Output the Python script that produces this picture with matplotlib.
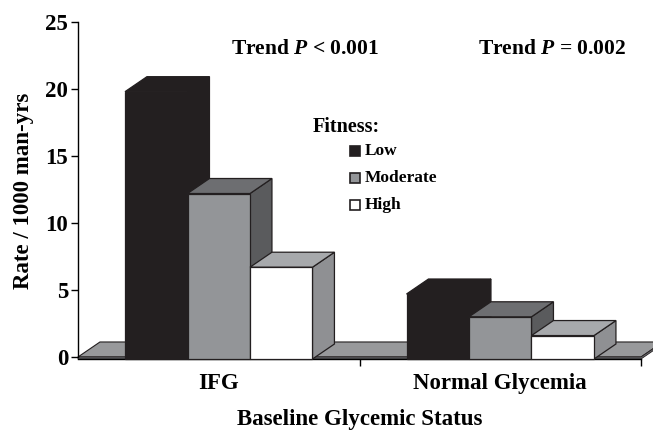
import numpy as np
import matplotlib.pyplot as plt
from matplotlib.patches import Polygon

# incidence rate per 1000 man-years by baseline status and fitness level
groups = ["IFG", "Normal Glycemia"]
fitness = ["Low", "Moderate", "High"]
rates = {
    "Low": [19.8, 4.7],
    "Moderate": [12.2, 3.0],
    "High": [6.7, 1.6],
}
trend_text = ["Trend $\\mathbfit{P}$ < 0.001", "Trend $\\mathbfit{P}$ = 0.002"]

# face colours: front, top, side
faces = {
    "Low": ("#231f20", "#231f20", "#231f20"),
    "Moderate": ("#939598", "#6d6e71", "#5a5b5d"),
    "High": ("#ffffff", "#a7a9ac", "#8f9093"),
}
edge = "#231f20"

plt.rcParams['font.family'] = ['Liberation Serif', 'DejaVu Serif']
plt.rcParams['font.weight'] = 'bold'
plt.rcParams['mathtext.fontset'] = 'custom'
plt.rcParams['mathtext.bfit'] = 'Liberation Serif:bold:italic'
plt.rcParams['mathtext.it'] = 'Liberation Serif:bold:italic'

W, H = 653, 432
fig = plt.figure(figsize=(W / 100, H / 100), dpi=100)
ax = fig.add_axes([78 / W, 73 / H, 563 / W, 337 / H])

base = -0.15          # floor thickness
dx, dy = 0.078, 1.12  # depth offset of the 3d look
w = 0.222             # bar width

ax.set_xlim(0, 2)
ax.set_ylim(base, 25)

# floor
floor = Polygon([(0, 0), (2, 0), (2 + dx, dy), (dx, dy)], closed=True,
                facecolor="#98999b", edgecolor=edge, lw=0.8, clip_on=False, zorder=1)
ax.add_patch(floor)
ax.add_patch(Polygon([(0, base), (2, base), (2 + dx, dy + base), (2 + dx, dy), (2, 0), (0, 0)],
                     closed=True, facecolor="#6d6e71", edgecolor=edge, lw=0.6,
                     clip_on=False, zorder=1))

z = 2
for g in range(len(groups)):
    for i, f in enumerate(fitness):
        x0 = g + 0.5 - 1.5 * w + i * w
        x1 = x0 + w
        h = rates[f][g]
        front, top, side = faces[f]
        side_poly = [(x1, base), (x1 + dx, base + dy), (x1 + dx, h + dy), (x1, h)]
        top_poly = [(x0, h), (x0 + dx, h + dy), (x1 + dx, h + dy), (x1, h)]
        front_poly = [(x0, base), (x1, base), (x1, h), (x0, h)]
        for pts, col in ((side_poly, side), (top_poly, top), (front_poly, front)):
            ax.add_patch(Polygon(pts, closed=True, facecolor=col, edgecolor=edge,
                                 lw=0.9, clip_on=False, zorder=z))
            z += 1

for s in ("top", "right"):
    ax.spines[s].set_visible(False)
ax.spines["left"].set_linewidth(1.0)
ax.spines["bottom"].set_linewidth(1.0)
ax.spines["left"].set_bounds(0, 25)

ax.set_yticks([0, 5, 10, 15, 20, 25])
ax.tick_params(axis="y", direction="out", length=5, width=1, labelsize=16.5, pad=2)
ax.set_xticks([1, 2], labels=["", ""])
ax.tick_params(axis="x", which="major", direction="out", length=5, width=1)
ax.set_xticks([0.5, 1.5], labels=groups, minor=True)
ax.tick_params(axis="x", which="minor", length=0, labelsize=16.5, pad=10)

ax.set_ylabel("Rate / 1000 man-yrs", fontsize=16.5, fontweight="bold", labelpad=8)
ax.set_xlabel("Baseline Glycemic Status", fontsize=16.5, fontweight="bold", labelpad=11)

# text and legend placed in figure pixels (origin bottom-left)
ax.text(305, H - 49, trend_text[0], transform=None, fontsize=15.5, fontweight="bold",
        ha="center", va="center")
ax.text(552, H - 49, trend_text[1], transform=None, fontsize=15.5, fontweight="bold",
        ha="center", va="center")

ax.text(313, H - 127, "Fitness:", transform=None, fontsize=14.5, fontweight="bold",
        ha="left", va="center")
for i, f in enumerate(fitness):
    yc = H - (151 + i * 27)
    fig.patches.append(plt.Rectangle((350, yc - 5), 10, 10, transform=None,
                                     facecolor=faces[f][0], edgecolor=edge, lw=1.2))
    ax.text(365, yc, f, transform=None, fontsize=12.5, fontweight="bold",
            ha="left", va="center")

fig.savefig("out.png", dpi=100)
